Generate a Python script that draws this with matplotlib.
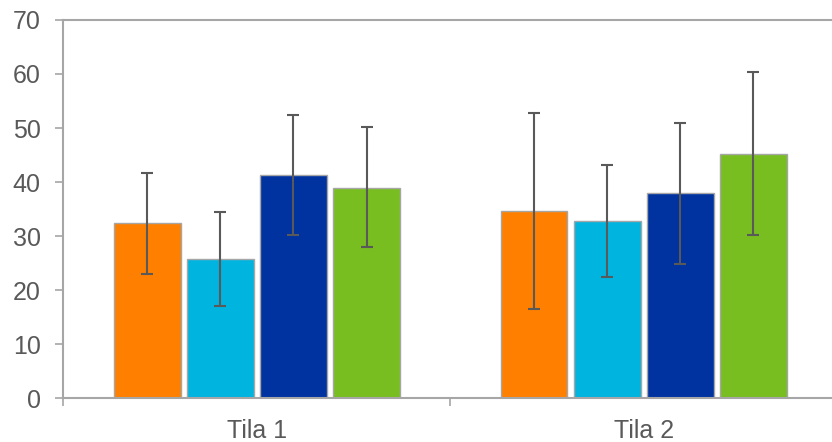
import numpy as np
import matplotlib.pyplot as plt

# data
categories = ['Tila 1', 'Tila 2']
series_colors = ['#FF8000', '#00B4E0', '#0033A0', '#78BE20']
means = [
    [32.4, 34.7],   # orange
    [25.8, 32.8],   # cyan
    [41.3, 37.9],   # dark blue
    [38.9, 45.2],   # green
]
err_low = [
    [9.4, 18.2],
    [8.7, 10.3],
    [11.1, 13.1],
    [11.0, 15.0],
]
err_high = [
    [9.2, 18.0],
    [8.7, 10.4],
    [11.1, 13.0],
    [11.2, 15.2],
]
y_ticks = [0, 10, 20, 30, 40, 50, 60, 70]

plt.rcParams['font.family'] = ['Liberation Sans', 'DejaVu Sans']
fig = plt.figure(figsize=(8.32, 4.42), dpi=100)
ax = fig.add_axes([0.0763, 0.0989, 0.930, 0.856])

axis_grey = '#A6A6A6'
text_grey = '#595959'

x = np.arange(len(categories))
stride = 0.189
width = 0.172
for i in range(len(means)):
    ax.bar(x + (i - 1.5) * stride, means[i], width,
           color=series_colors[i], edgecolor=axis_grey, linewidth=1.0, zorder=2)
    ax.errorbar(x + (i - 1.5) * stride, means[i],
                yerr=[err_low[i], err_high[i]], fmt='none',
                ecolor=text_grey, elinewidth=1.5, capsize=4.4, capthick=1.5, zorder=3)

ax.set_xlim(-0.5, 1.5)
ax.set_ylim(0, 70)
ax.set_yticks(y_ticks)
ax.set_xticks(x)
ax.set_xticklabels(categories)
ax.set_xticks([-0.5, 0.5, 1.5], minor=True)

for side in ['left', 'bottom', 'top']:
    ax.spines[side].set_color(axis_grey)
    ax.spines[side].set_linewidth(1.5)
ax.spines['right'].set_visible(False)

ax.tick_params(axis='y', colors=axis_grey, length=5.5, width=1.2,
               labelcolor=text_grey, labelsize=18, pad=11)
ax.tick_params(axis='x', which='major', length=0, labelcolor=text_grey,
               labelsize=18, pad=15)
ax.tick_params(axis='x', which='minor', colors=axis_grey, length=6, width=1.2)

fig.savefig('out.png', dpi=100)
